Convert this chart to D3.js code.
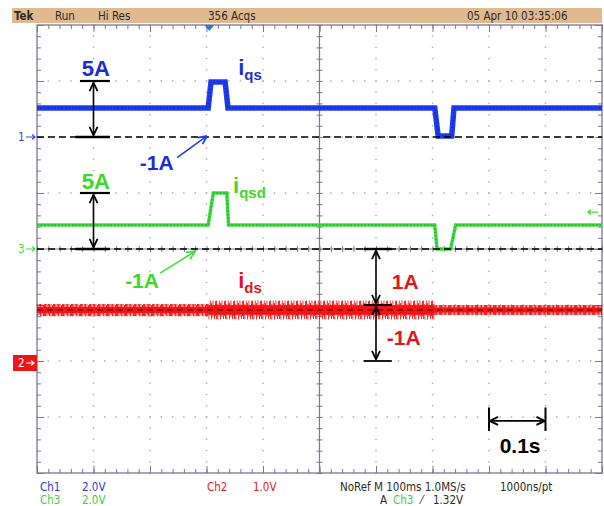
<!DOCTYPE html>
<html lang="en">
<head>
<meta charset="UTF-8">
<title>Scope capture</title>
<script src="https://d3js.org/d3.v7.min.js"></script>
<style>
  body { margin: 0; background: #fff; }
  svg { display: block; }
  .hdr { font-family: "Liberation Sans Narrow", "DejaVu Sans Condensed", "Liberation Sans", sans-serif; font-size: 11.5px; }
  .ann { font-family: "Liberation Sans", Arial, sans-serif; font-weight: bold; }
</style>
</head>
<body>
<svg id="scope" width="604" height="506"></svg>
<script>
// time in ms across 10 divisions (100 ms/div), levels in divisions above the channel reference
const ch1Time  = [0, 303, 308, 333, 338, 704, 710, 734, 738, 1000];
const ch1Level = [0.52, 0.52, 0.98, 0.98, 0.52, 0.52, 0.02, 0.02, 0.52, 0.52];
const ch3Time  = [0, 303, 312, 336, 339, 704, 708, 732, 741, 1000];
const ch3Level = [0.43, 0.43, 1.0, 1.0, 0.43, 0.43, 0.0, 0.0, 0.43, 0.43];
// ch2 is a noisy band: segment edges, band centre and half-height
const ch2Edges  = [0, 303, 704, 1000];
const ch2Center = [0.91, 0.91, 0.91];
const ch2Spread = [0.11, 0.17, 0.09];
// reference markers (divisions from screen centre)
const refCh1 = 2, refCh2 = -2, refCh3 = 0;
const headerText = ["Tek", "Run", "Hi Res", "356 Acqs", "05 Apr 10 03:35:06"];

const BLUE = "#1f3cf0", GREEN = "#3ee03a", RED = "#f01414", FRAME = "#77779a";

const svg = d3.select("#scope");
const L = 37, R = 602, T = 25, B = 473;
const x = d3.scaleLinear().domain([0, 1000]).range([L, R]);
const y = d3.scaleLinear().domain([-4, 4]).range([B, T]);
const defs = svg.append("defs");

// header bar
svg.append("rect").attr("x", 12).attr("y", 8).attr("width", 590).attr("height", 15).attr("fill", "#e1b98f");
const hdrX = [14, 55, 98, 208, 467];
headerText.forEach((s, i) => {
  svg.append("text").attr("class", "hdr").attr("x", hdrX[i]).attr("y", 19.5)
    .attr("fill", "#2a2a2a").attr("font-weight", i === 0 ? "bold" : "normal").text(s);
});

// grid dots
const minorT = d3.range(0, 1000.1, 20);
const minorD = d3.range(-4, 4.01, 0.2);
const dots = svg.append("g").attr("fill", "#a8a8a8");
d3.range(100, 1000, 100).filter(t => t !== 500).forEach(t => {
  minorD.forEach(d => dots.append("rect").attr("x", x(t) - 0.7).attr("y", y(d) - 0.7).attr("width", 1.4).attr("height", 1.4));
});
d3.range(-3, 4, 1).filter(d => d !== 0).forEach(d => {
  minorT.forEach(t => dots.append("rect").attr("x", x(t) - 0.7).attr("y", y(d) - 0.7).attr("width", 1.4).attr("height", 1.4));
});

// frame + edge ticks using axes
function ticks(axis, tx, ty, vals, size) {
  svg.append("g").attr("transform", `translate(${tx},${ty})`).attr("color", FRAME)
    .call(axis.tickValues(vals).tickSize(size).tickFormat(""))
    .call(g => g.select(".domain").remove());
}
const majorT = d3.range(0, 1000.1, 100), majorD = d3.range(-4, 4.01, 1);
ticks(d3.axisBottom(x), 0, T, minorT, 4);
ticks(d3.axisBottom(x), 0, T, majorT, 7);
ticks(d3.axisTop(x), 0, B, minorT, 4);
ticks(d3.axisTop(x), 0, B, majorT, 7);
ticks(d3.axisRight(y), L, 0, minorD, 4);
ticks(d3.axisRight(y), L, 0, majorD, 7);
ticks(d3.axisLeft(y), R, 0, minorD, 4);
ticks(d3.axisLeft(y), R, 0, majorD, 7);
// centre cross with ticks
ticks(d3.axisLeft(y), x(500), 0, minorD, 3);
ticks(d3.axisRight(y), x(500), 0, minorD, 3);
ticks(d3.axisTop(x), 0, y(0), minorT, 3);
ticks(d3.axisBottom(x), 0, y(0), minorT, 3);
svg.append("line").attr("x1", x(500)).attr("x2", x(500)).attr("y1", T).attr("y2", B).attr("stroke", FRAME).attr("stroke-width", 1.2);
svg.append("line").attr("x1", L).attr("x2", R).attr("y1", y(0)).attr("y2", y(0)).attr("stroke", FRAME).attr("stroke-width", 1.2);
svg.append("rect").attr("x", L).attr("y", T).attr("width", R - L).attr("height", B - T)
  .attr("fill", "none").attr("stroke", FRAME).attr("stroke-width", 1.3);

// trigger position marker
svg.append("path").attr("d", `M${x(305) - 5},${T} L${x(305) + 5},${T} L${x(305)},${T + 6} Z`).attr("fill", "#2a7ad8");

// channel 2 (red noisy band)
const bandPts = [];
ch2Edges.slice(0, -1).forEach((t, i) => {
  bandPts.push({ t: t, c: ch2Center[i], s: ch2Spread[i] });
  bandPts.push({ t: ch2Edges[i + 1], c: ch2Center[i], s: ch2Spread[i] });
});
const yc = y(refCh2 + ch2Center[0]);
const pat = defs.append("pattern").attr("id", "spikes").attr("patternUnits", "userSpaceOnUse")
  .attr("x", 0).attr("y", yc - 20).attr("width", 9).attr("height", 40);
[[0, 12, 9], [1.4, 6, 11], [2.8, 10, 5], [4.1, 7, 12], [5.5, 11, 7], [7, 5, 9], [8, 9, 6]].forEach(p => {
  pat.append("rect").attr("x", p[0]).attr("y", 20 - p[1]).attr("width", 0.9).attr("height", p[1] + p[2]).attr("fill", RED);
});
const band = d3.area().x(d => x(d.t))
  .y0(d => y(refCh2 + d.c - d.s)).y1(d => y(refCh2 + d.c + d.s));
svg.append("path").datum(bandPts).attr("d", band).attr("fill", "url(#spikes)");
const core = d3.area().x(d => x(d.t))
  .y0(d => y(refCh2 + d.c - d.s * 0.5)).y1(d => y(refCh2 + d.c + d.s * 0.5));
svg.append("path").datum(bandPts).attr("d", core).attr("fill", RED);

// channel 1 and 3 traces
function trace(times, levels, ref, color, w) {
  const pts = times.map((t, i) => [t, levels[i] + ref]);
  const ln = d3.line().x(d => x(d[0])).y(d => y(d[1]));
  svg.append("path").datum(pts).attr("d", ln).attr("fill", "none").attr("stroke", color)
    .attr("stroke-width", w).attr("stroke-linejoin", "miter");
  svg.append("path").datum(pts).attr("d", ln).attr("fill", "none").attr("stroke", "#0a1670")
    .attr("stroke-opacity", 0.3).attr("stroke-width", w * 0.45).attr("stroke-dasharray", "1.5 2");
}
trace(ch1Time, ch1Level, refCh1, BLUE, 5.5);
trace(ch3Time, ch3Level, refCh3, GREEN, 3.5);

// dashed reference lines
[refCh1, refCh3].forEach(r => {
  svg.append("line").attr("x1", L).attr("x2", R).attr("y1", y(r)).attr("y2", y(r))
    .attr("stroke", "#000").attr("stroke-width", 1.6).attr("stroke-dasharray", "7 4");
});
svg.append("line").attr("x1", L).attr("x2", R).attr("y1", yc).attr("y2", yc)
  .attr("stroke", "#300").attr("stroke-opacity", 0.55).attr("stroke-width", 1.5).attr("stroke-dasharray", "6 4");

// channel markers on the left
function marker(d, label, color) {
  svg.append("text").attr("class", "hdr").attr("x", 18).attr("y", y(d) + 4).attr("fill", color).text(label);
  svg.append("path").attr("d", `M26,${y(d)} H35 M32,${y(d) - 2.5} L35,${y(d)} L32,${y(d) + 2.5}`)
    .attr("stroke", color).attr("fill", "none").attr("stroke-width", 1.2);
}
marker(refCh1, "1", "#3344dd");
marker(refCh3, "3", GREEN);
svg.append("rect").attr("x", 13).attr("y", y(refCh2) - 6).attr("width", 24).attr("height", 16).attr("fill", RED);
svg.append("text").attr("class", "hdr").attr("x", 18).attr("y", y(refCh2) + 6).attr("fill", "#fff").text("2");
svg.append("path").attr("d", `M26,${y(refCh2) + 2} H34 M31,${y(refCh2) - 0.5} L34,${y(refCh2) + 2} L31,${y(refCh2) + 4.5}`)
  .attr("stroke", "#fff").attr("fill", "none").attr("stroke-width", 1.2);
// trigger level arrow on the right (1.32 V at 2 V/div)
const trigY = y(refCh3 + 1.32 / 2);
svg.append("path").attr("d", `M598,${trigY} H588 M591,${trigY - 2.5} L588,${trigY} L591,${trigY + 2.5}`)
  .attr("stroke", GREEN).attr("fill", "none").attr("stroke-width", 1.3);

// annotations
["chev", "chevB", "chevG"].forEach((id, i) => {
  defs.append("marker").attr("id", id).attr("viewBox", "0 0 10 10").attr("refX", 9.5).attr("refY", 5)
    .attr("markerWidth", 10).attr("markerHeight", 10).attr("markerUnits", "userSpaceOnUse")
    .attr("orient", "auto-start-reverse")
    .append("path").attr("d", "M1,1 L9.5,5 L1,9").attr("fill", "none")
    .attr("stroke", ["#000", BLUE, GREEN][i]).attr("stroke-width", 1.8);
});
function hbar(t0, t1, d, w) {
  svg.append("line").attr("x1", x(t0)).attr("x2", x(t1)).attr("y1", y(d)).attr("y2", y(d))
    .attr("stroke", "#000").attr("stroke-width", w);
}
function arrow(t0, d0, t1, d1, color, mk, both) {
  const a = svg.append("line").attr("x1", x(t0)).attr("y1", y(d0)).attr("x2", x(t1)).attr("y2", y(d1))
    .attr("stroke", color).attr("stroke-width", 1.6).attr("marker-end", `url(#${mk})`);
  if (both) a.attr("marker-start", `url(#${mk})`);
}
function label(t, d, s, color, size, anchor) {
  return svg.append("text").attr("class", "ann").attr("x", x(t)).attr("y", y(d))
    .attr("fill", color).attr("font-size", size).attr("text-anchor", anchor || "start").text(s);
}
function subLabel(t, d, main, sub, color) {
  const tx = svg.append("text").attr("class", "ann").attr("x", x(t)).attr("y", y(d)).attr("fill", color);
  tx.append("tspan").attr("font-size", 22).text(main);
  tx.append("tspan").attr("font-size", 15).attr("dy", 5).text(sub);
}

const LBLUE = "#1c2fd4", LGREEN = "#3fd82a", LRED = "#e3161a";
// ch1 5A
hbar(76, 129, refCh1 + 1, 2.2);
hbar(68, 129, refCh1, 2.6);
arrow(100, refCh1 + 0.03, 100, refCh1 + 0.97, "#000", "chev", true);
label(104, 3.09, "5A", LBLUE, 22, "middle");
label(182, 1.41, "-1A", LBLUE, 21);
arrow(248, 1.63, 301, refCh1 + 0.02, BLUE, "chevB", false);
subLabel(356, 3.1, "i", "qs", LBLUE);

// ch3 5A
hbar(76, 129, refCh3 + 1, 2.2);
hbar(68, 129, refCh3, 2.6);
arrow(100, refCh3 + 0.03, 100, refCh3 + 0.97, "#000", "chev", true);
label(104, 1.07, "5A", LGREEN, 22, "middle");
label(156, -0.7, "-1A", LGREEN, 21);
arrow(218, -0.43, 280, -0.04, GREEN, "chevG", false);
subLabel(347, 1.0, "i", "qsd", LGREEN);

// ch2 +-1A
hbar(578, 628, 0, 2.4);
hbar(578, 628, -1, 1.8);
hbar(578, 628, -2, 1.8);
arrow(600, -0.03, 600, -0.97, "#000", "chev", true);
arrow(600, -1.03, 600, -1.97, "#000", "chev", true);
label(628, -0.71, "1A", LRED, 21);
label(619, -1.71, "-1A", LRED, 21);
subLabel(356, -0.7, "i", "ds", LRED);

// 0.1 s scale bar
[800, 900].forEach(t => {
  svg.append("line").attr("x1", x(t)).attr("x2", x(t)).attr("y1", y(-2.83)).attr("y2", y(-3.25))
    .attr("stroke", "#000").attr("stroke-width", 2);
});
arrow(801, -3.07, 899, -3.07, "#000", "chev", true);
label(855, -3.64, "0.1s", "#000", 21, "middle");

// bottom status lines
const status = [
  ["Ch1", 40, 491, "#2b3ad8"], ["2.0V", 82, 491, "#2b3ad8"],
  ["Ch3", 40, 504, "#44cc44"], ["2.0V", 82, 504, "#44cc44"],
  ["Ch2", 207, 491, "#e02020"], ["1.0V", 253, 491, "#e02020"],
  ["NoRef M 100ms 1.0MS/s", 340, 491, "#2a2a2a"], ["1000ns/pt", 500, 491, "#2a2a2a"],
  ["A", 380, 504, "#2a2a2a"], ["Ch3", 393, 504, "#44cc44"], ["\u2044", 421, 504, "#2a2a2a"], ["1.32V", 433, 504, "#2a2a2a"]
];
status.forEach(s => {
  svg.append("text").attr("class", "hdr").attr("x", s[1]).attr("y", s[2]).attr("fill", s[3]).text(s[0]);
});
</script>
</body>
</html>
